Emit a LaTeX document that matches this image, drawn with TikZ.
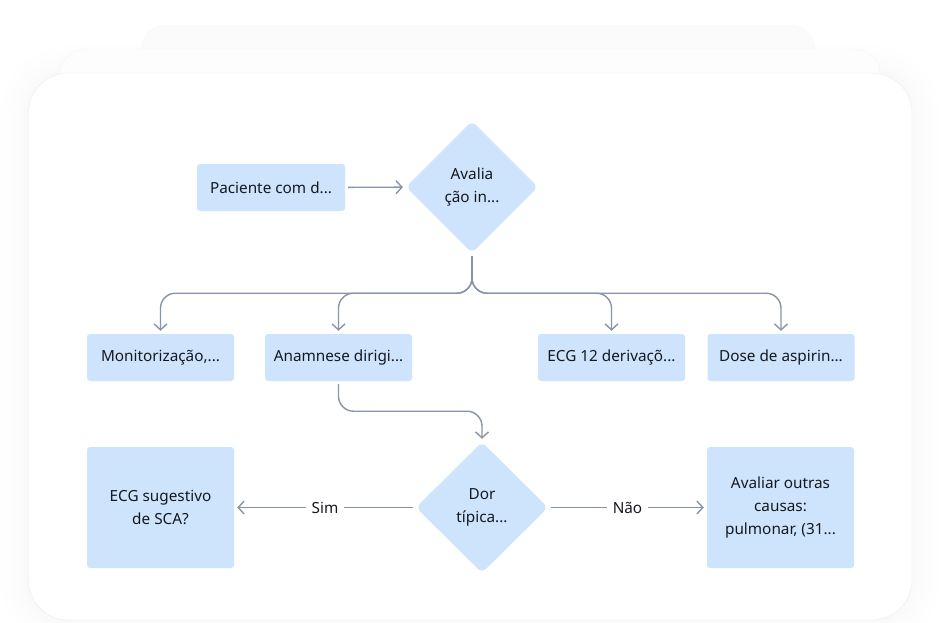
\documentclass[tikz,border=0pt]{standalone}
\usepackage{fontspec}
\setmainfont{Noto Sans}
\usetikzlibrary{shapes.geometric,arrows.meta}
\definecolor{nodefill}{RGB}{205,228,252}
\definecolor{linecol}{RGB}{138,148,168}
\definecolor{txtcol}{RGB}{22,24,32}
\definecolor{cardline}{RGB}{234,236,241}
\definecolor{ghostA}{RGB}{251,251,252}
\definecolor{ghostB}{RGB}{253,253,253}
\tikzset{
  lbl/.style={font=\fontsize{15.3}{23}\selectfont, text=txtcol, align=center},
  boxnode/.style={lbl, rectangle, fill=nodefill, rounded corners=3pt, minimum width=147pt, minimum height=47pt, inner sep=0pt},
  tallbox/.style={boxnode, minimum height=121pt},
  decision/.style={lbl, diamond, aspect=1, fill=nodefill, rounded corners=6pt, minimum width=132pt, minimum height=132pt, inner sep=0pt},
  conn/.style={draw=linecol, line width=1.4pt, -{Straight Barb[length=6pt,width=13pt,line width=1.4pt]}, shorten >=3pt, shorten <=3pt},
  edgelbl/.style={lbl, fill=white, inner sep=6pt}
}
\begin{document}
\begin{tikzpicture}[x=1pt,y=-1pt]
\useasboundingbox (0,0) rectangle (940,622);
% soft shadow
\foreach \d in {2,5,9,14,20,27}{
  \fill[black, opacity=0.005, rounded corners=40pt+\d pt] (28-\d,73-\d) rectangle (912+\d,620+\d);
}
% ghost cards
\filldraw[fill=ghostA, draw=cardline!35, rounded corners=25pt] (141,25) rectangle (815,200);
\filldraw[fill=ghostB, draw=cardline!50, rounded corners=25pt] (60,49) rectangle (880,200);
% main card
\filldraw[fill=white, draw=cardline, rounded corners=40pt] (28.5,73) rectangle (912,620);

% nodes
\node[boxnode, minimum width=148pt] (pac) at (271,187.5) {Paciente com d...};
\node[decision] (d1) at (472,187) {Avalia\\ção in...};
\node[boxnode] (mon) at (160.5,357.5) {Monitorização,...};
\node[boxnode] (anam) at (338.5,357.5) {Anamnese dirigi...};
\node[boxnode] (ecg) at (611.5,357.5) {ECG 12 derivaçõ...};
\node[boxnode] (dose) at (781,357.5) {Dose de aspirin...};
\node[decision, minimum height=131pt] (d2) at (482,507.5) {Dor\\típica...};
\node[tallbox] (ecgs) at (160.5,507.5) {ECG sugestivo\\de SCA?};
\node[tallbox] (aval) at (780.5,507.5) {Avaliar outras\\causas:\\pulmonar, (31...};

% connectors
\draw[conn] (pac) -- (d1);
\draw[conn, rounded corners=15pt] (d1.south) -- ++(0,40) -| (mon.north);
\draw[conn, rounded corners=15pt] (d1.south) -- ++(0,40) -| (anam.north);
\draw[conn, rounded corners=15pt] (d1.south) -- ++(0,40) -| (ecg.north);
\draw[conn, rounded corners=15pt] (d1.south) -- ++(0,40) -| (dose.north);
\draw[conn, rounded corners=15pt] (anam.south) -- ++(0,30) -| (d2.north);
\draw[conn] (d2.west) -- node[edgelbl] {Sim} (ecgs.east);
\draw[conn] (d2.east) -- node[edgelbl] {Não} (aval.west);
\end{tikzpicture}
\end{document}
